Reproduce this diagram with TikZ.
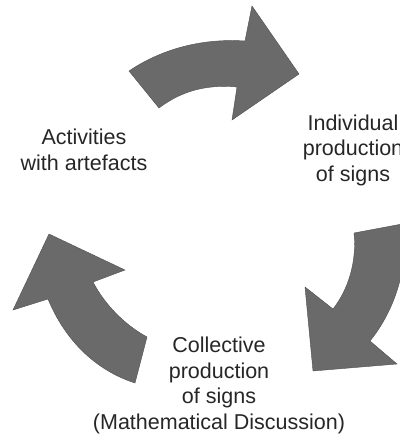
\documentclass[tikz,border=0pt]{standalone}
\usepackage{fontspec}
\setmainfont{Liberation Sans}

\definecolor{arrowgray}{RGB}{106,106,106}
\definecolor{edgegray}{RGB}{78,78,78}
\definecolor{textgray}{RGB}{38,38,38}

\tikzset{
    bigarrow/.style={fill=arrowgray, draw=edgegray, line width=0.4pt, line join=miter},
    cyclelabel/.style={align=center, inner sep=0pt, text=textgray,
        font=\fontsize{21.5}{25.5}\selectfont, anchor=base}
}

\begin{document}
\begin{tikzpicture}[x=1pt, y=-1pt]

        \useasboundingbox (0,0) rectangle (399,436);

        % top arrow
                \draw[bigarrow] (129,71) .. controls (160,50) and (200,38) .. (245,41)
                    -- (252,6) -- (299,74) -- (232,120) -- (237,87)
                    .. controls (205,84) and (180,92) .. (159,108) -- cycle;

        % right arrow
                \draw[bigarrow] (354,233) -- (402,224)
                    .. controls (410,265) and (395,310) .. (370,341)
                    -- (397,364) -- (313,371) -- (305,287) -- (333,309)
                    .. controls (348,290) and (357,262) .. (354,233) -- cycle;

        % left arrow
                \draw[bigarrow] (135,383) -- (147,337)
                    .. controls (125,325) and (105,305) .. (93,282)
                    -- (125,270) -- (49,234) -- (13,310) -- (48,299)
                    .. controls (65,340) and (95,370) .. (135,383) -- cycle;

        % labels (anchor base = last line)
                \node[cyclelabel] (activities) at (84,170) {Activities\\with artefacts};
                \node[cyclelabel] (individual) at (353,181) {Individual\\production\\of signs};
                \node[cyclelabel] (collective) at (219,429) {Collective\\production\\of signs\\(Mathematical Discussion)};

\end{tikzpicture}
\end{document}
